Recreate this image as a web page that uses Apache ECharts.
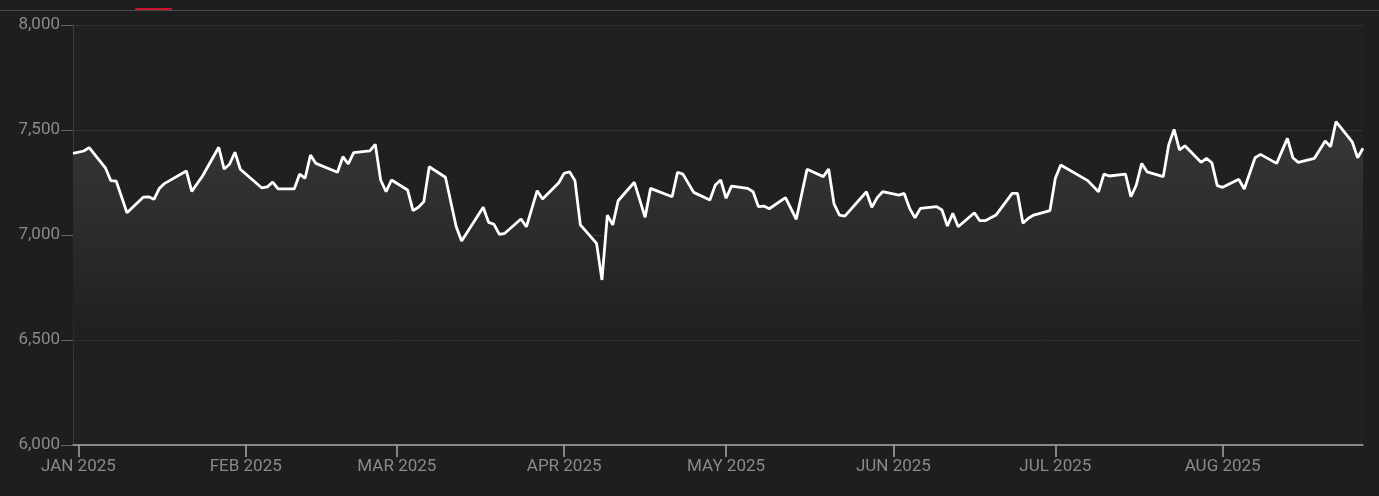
<!DOCTYPE html>
<html>
<head>
<meta charset="utf-8">
<script src="https://cdn.jsdelivr.net/npm/echarts@6/dist/echarts.min.js"></script>
<style>
html,body{margin:0;padding:0;background:#1e1e1e;}
#chart{width:1379px;height:496px;}
</style>
</head>
<body>
<div id="chart"></div>
<script>
var dates = [
'2024-12-31','2025-01-02','2025-01-03','2025-01-06','2025-01-07','2025-01-08','2025-01-10',
'2025-01-13','2025-01-14','2025-01-15','2025-01-16','2025-01-17','2025-01-21','2025-01-22','2025-01-24',
'2025-01-27','2025-01-28','2025-01-29','2025-01-30','2025-01-31','2025-02-04','2025-02-05','2025-02-06','2025-02-07',
'2025-02-10','2025-02-11','2025-02-12','2025-02-13','2025-02-14','2025-02-18','2025-02-19','2025-02-20','2025-02-21',
'2025-02-24','2025-02-25','2025-02-26','2025-02-27','2025-02-28','2025-03-03','2025-03-04','2025-03-05','2025-03-06','2025-03-07',
'2025-03-10','2025-03-12','2025-03-13','2025-03-17','2025-03-18','2025-03-19','2025-03-20','2025-03-21',
'2025-03-24','2025-03-25','2025-03-27','2025-03-28','2025-03-31','2025-04-01','2025-04-02','2025-04-03','2025-04-04',
'2025-04-07','2025-04-08','2025-04-09','2025-04-10','2025-04-11','2025-04-14','2025-04-16','2025-04-17',
'2025-04-21','2025-04-22','2025-04-23','2025-04-25','2025-04-28','2025-04-29','2025-04-30','2025-05-01','2025-05-02',
'2025-05-05','2025-05-06','2025-05-07','2025-05-08','2025-05-09','2025-05-12','2025-05-14','2025-05-16',
'2025-05-19','2025-05-20','2025-05-21','2025-05-22','2025-05-23','2025-05-27','2025-05-28','2025-05-29','2025-05-30',
'2025-06-02','2025-06-03','2025-06-04','2025-06-05','2025-06-06','2025-06-09','2025-06-10','2025-06-11','2025-06-12','2025-06-13',
'2025-06-16','2025-06-17','2025-06-18','2025-06-20','2025-06-23','2025-06-24','2025-06-25','2025-06-26','2025-06-27',
'2025-06-30','2025-07-01','2025-07-02','2025-07-07','2025-07-09','2025-07-10','2025-07-11',
'2025-07-14','2025-07-15','2025-07-16','2025-07-17','2025-07-18','2025-07-21','2025-07-22','2025-07-23','2025-07-24','2025-07-25',
'2025-07-28','2025-07-29','2025-07-30','2025-07-31','2025-08-01','2025-08-04','2025-08-05','2025-08-07','2025-08-08',
'2025-08-11','2025-08-13','2025-08-14','2025-08-15','2025-08-18','2025-08-20','2025-08-21','2025-08-22',
'2025-08-25','2025-08-26','2025-08-27'
];
var values = [
7389,7400,7416,7320,7259,7257,7106,
7180,7182,7170,7222,7246,7305,7208,7281,
7418,7314,7337,7394,7313,7224,7229,7252,7220,
7220,7290,7270,7381,7341,7299,7373,7338,7392,
7401,7432,7262,7206,7262,7214,7116,7132,7159,7325,
7275,7039,6971,7132,7060,7051,7003,7008,
7076,7039,7211,7171,7249,7294,7301,7259,7048,
6960,6786,7095,7048,7163,7251,7084,7222,
7182,7299,7290,7203,7167,7238,7262,7175,7233,
7222,7206,7135,7138,7125,7178,7075,7313,
7278,7314,7148,7095,7090,7206,7132,7178,7206,
7190,7198,7127,7082,7127,7135,7119,7043,7103,7039,
7106,7068,7068,7095,7198,7198,7056,7080,7095,
7116,7270,7333,7259,7206,7290,7281,
7290,7182,7238,7341,7301,7278,7429,7503,7405,7425,
7346,7365,7344,7235,7227,7265,7219,7368,7384,
7341,7460,7368,7346,7365,7448,7420,7540,
7444,7368,7413
];
var monthTicks = ['2025-01-01','2025-02-01','2025-03-01','2025-04-01','2025-05-01','2025-06-01','2025-07-01','2025-08-01'];
var monthNames = ['JAN','FEB','MAR','APR','MAY','JUN','JUL','AUG','SEP','OCT','NOV','DEC'];
var yMin = 6000, yMax = 8000, yStep = 500;

function toTime(s){ var p = s.split('-'); return new Date(+p[0], +p[1]-1, +p[2]).getTime(); }
var seriesData = dates.map(function(d, i){ return [toTime(d), values[i]]; });
var tickValues = monthTicks.map(toTime);

var chart = echarts.init(document.getElementById('chart'), null, {renderer:'canvas'});
var font = 'Roboto, "Liberation Sans", Arial, sans-serif';
chart.setOption({
  backgroundColor: '#1e1e1e',
  animation: false,
  textStyle: {fontFamily: font},
  graphic: [
    {type:'rect', shape:{x:0, y:10, width:1379, height:1}, style:{fill:'#4a4a4a'}, silent:true},
    {type:'rect', shape:{x:135, y:8, width:37, height:2}, style:{fill:'#c8102e'}, silent:true}
  ],
  grid: {left: 73, right: 16, top: 25, bottom: 51, containLabel: false,
         show: true, backgroundColor: '#202020', borderWidth: 0},
  xAxis: {
    type: 'value',
    min: seriesData[0][0],
    max: seriesData[seriesData.length-1][0],
    axisLine: {show: true, onZero: false, lineStyle: {color: '#a8a8a8', width: 1.5}},
    axisTick: {show: true, length: 12, lineStyle: {color: '#a8a8a8', width: 1.5}, customValues: tickValues},
    splitLine: {show: false},
    axisLabel: {
      customValues: tickValues,
      color: '#8a8a8a',
      fontSize: 17,
      fontFamily: font,
      margin: 13,
      formatter: function(v){ var d = new Date(v); return monthNames[d.getMonth()] + ' ' + d.getFullYear(); }
    }
  },
  yAxis: {
    type: 'value',
    min: yMin, max: yMax, interval: yStep,
    axisLine: {show: true, lineStyle: {color: '#3a3a3a'}},
    axisTick: {show: true, length: 12, lineStyle: {color: '#666'}},
    splitLine: {show: true, lineStyle: {color: '#333'}},
    axisLabel: {
      color: '#8a8a8a', fontSize: 17, fontFamily: font, margin: 13,
      formatter: function(v){ return v.toLocaleString('en-US'); }
    }
  },
  series: [{
    type: 'line',
    data: seriesData,
    showSymbol: false,
    symbol: 'none',
    lineStyle: {color: '#ffffff', width: 2.8},
    areaStyle: {
      opacity: 1,
      color: new echarts.graphic.LinearGradient(0, 25, 0, 445, [
        {offset: 0, color: 'rgba(58,58,58,1)'},
        {offset: 0.32, color: 'rgba(51,51,51,1)'},
        {offset: 0.5, color: 'rgba(43,43,43,1)'},
        {offset: 0.655, color: 'rgba(36,36,36,1)'},
        {offset: 0.74, color: 'rgba(32,32,32,0.5)'},
        {offset: 0.8, color: 'rgba(32,32,32,0)'}
      ], true)
    }
  }]
});
</script>
</body>
</html>
